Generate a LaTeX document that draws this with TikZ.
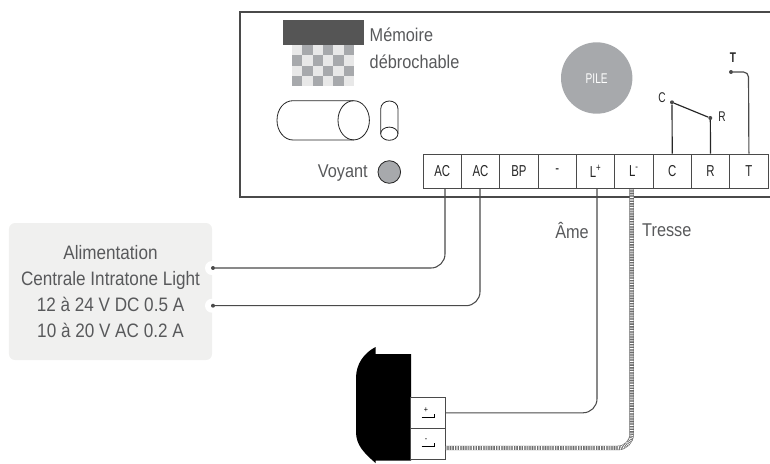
\documentclass[tikz,border=0pt]{standalone}
\usepackage{fontspec}
\setmainfont[FakeStretch=0.88]{Liberation Sans}
\newfontfamily\narrowfont[FakeStretch=0.72]{Liberation Sans}
\definecolor{labelgray}{HTML}{58595B}
\definecolor{pilegray}{HTML}{A7A9AC}
\definecolor{checklight}{HTML}{E8E8E8}
\definecolor{memdark}{HTML}{555555}
\definecolor{alimgray}{HTML}{F0F0EF}
\definecolor{wiregray}{HTML}{4A4A4A}
\tikzset{
    terminal/.style={draw=wiregray, fill=white, line width=0.8pt, minimum width=1.15cm, minimum height=1.04cm, inner sep=0pt, font=\narrowfont\fontsize{13.5}{15}\selectfont, text=black!85},
    socket/.style={draw=wiregray, fill=white, line width=0.8pt, minimum width=1.04cm, minimum height=0.93cm, inner sep=0pt},
    caption/.style={text=labelgray, font=\fontsize{15.8}{18}\selectfont, inner sep=0pt},
    pinlabel/.style={text=black!85, font=\narrowfont\fontsize{12}{14}\selectfont, inner sep=0pt},
    wiredot/.style={circle, fill=wiregray, inner sep=0pt, minimum size=3.4pt},
    wire/.style={wiregray, line width=0.9pt, rounded corners=0.42cm},
    tresse/.style={line width=3.8pt, rounded corners=0.42cm},
}
\begin{document}
\begin{tikzpicture}[x=0.03cm, y=-0.03cm]
    \useasboundingbox (0,0) rectangle (770,463);
    % Boitier
    \draw[wiregray, line width=0.9pt] (770,12)--(240,12)--(240,197)--(770,197);
    \fill[memdark] (283,20) rectangle (364,45);
    \foreach \i in {0,...,5}
        \foreach \j in {0,...,3} {
            \pgfmathtruncatemacro{\odd}{mod(\i+\j,2)}
            \ifnum\odd=0 \def\cellcol{checklight}\else \def\cellcol{pilegray}\fi
            \fill[\cellcol] (292+\i*10.33,45+\j*10.25) rectangle (292+\i*10.33+10.33,45+\j*10.25+10.25);
        }
    \node[caption, anchor=west] (memoire) at (369.5,35) {Mémoire};
    \node[caption, anchor=west] (debrochable) at (369.5,62) {débrochable};
    % Cylindres
    \draw[black!85, line width=0.7pt] (353.7,100.7)--(293,100.7) .. controls (284,100.7) and (277,109) .. (277,120.3) .. controls (277,131) and (284,140) .. (293,140)--(353.7,140);
    \draw[black!85, line width=0.7pt] (353.7,120.3) ellipse [x radius=15.7, y radius=19.6];
    \draw[black!85, line width=0.7pt] (380.7,133.7)--(380.7,109) .. controls (380.7,104) and (385,101) .. (389.3,101) .. controls (394,101) and (398,104) .. (398,109)--(398,133.7);
    \draw[black!85, line width=0.7pt] (389.3,133.7) ellipse [x radius=8.65, y radius=6.6];
    % Voyant et pile
    \node[caption, anchor=east] (voyant) at (368,173) {Voyant};
    \filldraw[fill=pilegray, draw=black!85, line width=0.7pt] (389.3,172) circle (11.3);
    \fill[pilegray] (596.7,78) circle (35.7);
    \node[text=white, font=\narrowfont\fontsize{12}{14}\selectfont, inner sep=0pt] (pile) at (596.7,79) {PILE};
    % Borniers
    \foreach \name/\lab [count=\n from 0] in {acA/AC, acB/AC, bp/BP, moins/-, lplus/L\textsuperscript{+}, lmoins/L\textsuperscript{-}, bornC/C, bornR/R, bornT/T}
        \node[terminal] (\name) at (442.2+\n*38.34,171.5) {\lab};
    \coordinate (acAdrop) at (445,189);
    \coordinate (acBdrop) at (480,189);
    \coordinate (lplusdrop) at (597,189);
    \coordinate (lmoinsdrop) at (631.7,189);
    % Contacts C, R, T
    \node[wiredot] (pinC) at (672,102.3) {};
    \node[wiredot] (pinR) at (710.3,118) {};
    \node[wiredot] (pinT) at (731,72) {};
    \coordinate (pinTcorner) at (748.5,72);
    \draw[black!85, line width=1pt] (bornC.north) -- (pinC) -- (pinR) -- (bornR.north);
    \draw[wiregray, line width=1pt, rounded corners=0.15cm] (pinT) -- (pinTcorner) -- (bornT.north);
    \node[pinlabel] (labC) at (662,98) {C};
    \node[pinlabel] (labR) at (722,117) {R};
    \node[pinlabel, font=\narrowfont\bfseries\fontsize{12}{14}\selectfont] (labT) at (733,58) {T};
    % Alimentation
    \node[fill=alimgray, rounded corners=0.18cm, minimum width=6.09cm, minimum height=4.11cm, inner sep=0pt] (alim) at (110.5,291.5) {};
    \node[text=labelgray, align=center, font=\fontsize{16.6}{22}\selectfont, inner sep=0pt] (alimtext) at (110.5,291.5) {Alimentation\\Centrale Intratone Light\\12 à 24 V DC 0.5 A\\10 à 20 V AC 0.2 A};
    \fill[white] (212,268) circle (7);
    \fill[white] (212,305.7) circle (7);
    \node[wiredot] (alimA) at (213,268) {};
    \node[wiredot] (alimB) at (213,305.7) {};
    \draw[wire] (acAdrop) |- (alimA);
    \draw[wire] (acBdrop) |- (alimB);
    % Lecteur
    \fill[black] (375.5,347)--(375.5,354)--(411,354)--(411,460.7)--(375.5,460.7)--(375.5,463) .. controls (364,453) and (356,445) .. (356,432)--(356,378) .. controls (356,364) and (364,353) .. (375.5,347)--cycle;
    \node[socket] (sockP) at (428.3,412.8) {};
    \node[socket] (sockM) at (428.3,443.7) {};
    \node[font=\fontsize{7}{8}\selectfont, inner sep=0pt] (signP) at (426,410) {+};
    \node[font=\fontsize{7}{8}\selectfont, inner sep=0pt] (signM) at (426,440) {-};
    \draw[line width=0.7pt] (421.7,417)--(434,417)--(434,413.5);
    \draw[line width=0.7pt] (421.7,446.3)--(434,446.3)--(434,442.8);
    \draw[wire] (lplusdrop) |- (sockP.east);
    \coordinate (sockMout) at (445.7,448);
    \draw[tresse, black!65] (lmoinsdrop) |- (sockMout);
    \draw[tresse, white, dash pattern=on 0.6pt off 0.8pt, line width=3.1pt] (lmoinsdrop) |- (sockMout);
    \node[caption, anchor=east] (ame) at (589,230.5) {Âme};
    \node[caption, anchor=west] (tressetxt) at (642,230.5) {Tresse};
\end{tikzpicture}
\end{document}
